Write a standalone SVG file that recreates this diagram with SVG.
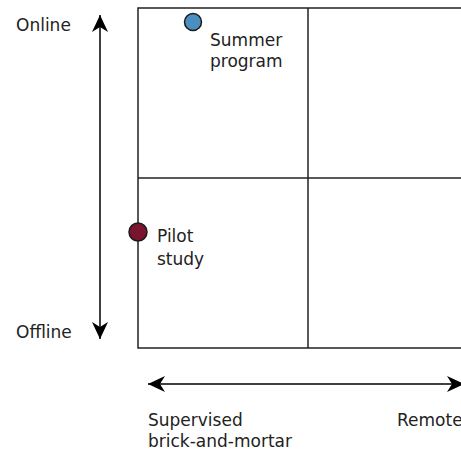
<svg xmlns="http://www.w3.org/2000/svg" width="461" height="450" viewBox="0 0 461 450">
<style>
text{font-family:"DejaVu Sans","Liberation Sans",sans-serif;font-size:17px;fill:#222}
.grid{fill:none;stroke:#222;stroke-width:1.5}
.axis{stroke:#000;stroke-width:1.5;fill:none}
</style>
<defs>
<marker id="ah" viewBox="-19 -10 20 20" refX="0" refY="0" markerWidth="20" markerHeight="20" markerUnits="userSpaceOnUse" orient="auto-start-reverse">
<path d="M0,0 L-17,-8 L-12,0 L-17,8 Z" fill="#000"/>
</marker>
</defs>
<rect width="461" height="450" fill="#fff"/>
<g id="grid">
<rect class="grid" x="138" y="8" width="340" height="340"/>
<line class="grid" x1="308" y1="8" x2="308" y2="348"/>
<line class="grid" x1="138" y1="178" x2="478" y2="178"/>
</g>
<g id="connectors">
<line class="axis" x1="100" y1="15" x2="100" y2="339" marker-start="url(#ah)" marker-end="url(#ah)"/>
<line class="axis" x1="148" y1="384" x2="464" y2="384" marker-start="url(#ah)" marker-end="url(#ah)"/>
</g>
<g id="axis-labels">
<text x="16" y="31">Online</text>
<text x="16" y="338">Offline</text>
<text x="148" y="426">Supervised</text>
<text x="148" y="447">brick-and-mortar</text>
<text x="397" y="426">Remote</text>
</g>
<g id="summer">
<circle cx="193" cy="22" r="8.5" fill="#4a8fc0" stroke="#1a1a1a" stroke-width="1.5"/>
<text x="210" y="46">Summer</text>
<text x="210" y="67">program</text>
</g>
<g id="pilot">
<circle cx="138" cy="232" r="9" fill="#7a1530" stroke="#1a1a1a" stroke-width="1.5"/>
<text x="157" y="242">Pilot</text>
<text x="157" y="265">study</text>
</g>
</svg>
